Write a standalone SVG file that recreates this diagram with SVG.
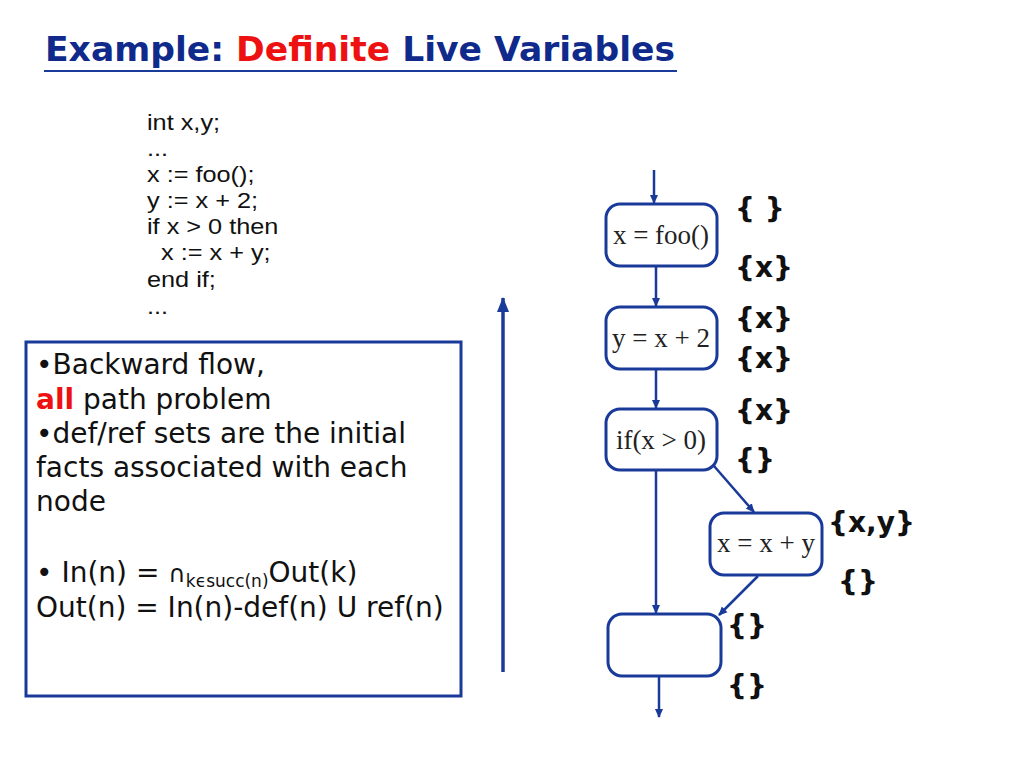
<svg xmlns="http://www.w3.org/2000/svg" width="1024" height="768" viewBox="0 0 1024 768">
<defs>
<style>
.title{font-family:"Comic Sans MS","DejaVu Sans",sans-serif;font-size:33px;font-weight:bold;fill:#102a8c}
.red{fill:#ee1111}
.code{font-family:"Liberation Sans",Arial,sans-serif;font-size:22px;fill:#111}
.body{font-family:"Comic Sans MS","DejaVu Sans",sans-serif;font-size:28px;fill:#111}
.node{fill:#fff;stroke:#1a3a9a;stroke-width:3}
.nt{font-family:"Liberation Serif","Times New Roman",serif;font-size:27px;fill:#222;text-anchor:middle}
.set{font-family:"Comic Sans MS","DejaVu Sans",sans-serif;font-size:28px;font-weight:bold;fill:#111}
.edge{stroke:#1a3a9a;stroke-width:2.5;fill:none;marker-end:url(#ah)}
</style>
<marker id="ah" markerWidth="10" markerHeight="10" refX="8" refY="5" orient="auto" markerUnits="userSpaceOnUse">
<path d="M0,1 L9,5 L0,9 z" fill="#1a3a9a"/>
</marker>
<marker id="big" markerWidth="16" markerHeight="16" refX="14" refY="8" orient="auto" markerUnits="userSpaceOnUse">
<path d="M0,2 L15,8 L0,14 z" fill="#1a3a9a"/>
</marker>
</defs>
<rect width="1024" height="768" fill="#fff"/>
<g id="title">
<text class="title" x="45" y="61" textLength="630" lengthAdjust="spacingAndGlyphs">Example: <tspan class="red">Definite</tspan> Live Variables</text>
<line x1="44" y1="71" x2="677" y2="71" stroke="#1a3a9a" stroke-width="2"/>
</g>
<g id="code" class="code" transform="translate(147,0) scale(1.15,1) translate(-147,0)">
<text x="147" y="130">int x,y;</text>
<text x="147" y="156">...</text>
<text x="147" y="182">x := foo();</text>
<text x="147" y="208">y := x + 2;</text>
<text x="147" y="234">if x &gt; 0 then</text>
<text x="147" y="260" xml:space="preserve">  x := x + y;</text>
<text x="147" y="287">end if;</text>
<text x="147" y="314">...</text>
</g>
<g id="notes">
<rect x="26" y="342" width="435" height="354" fill="#fff" stroke="#1a3a9a" stroke-width="3"/>
<text class="body" x="36" y="374">•Backward flow,</text>
<text class="body" x="36" y="409"><tspan class="red" font-weight="bold">all</tspan> path problem</text>
<text class="body" x="36" y="443">•def/ref sets are the initial</text>
<text class="body" x="36" y="477">facts associated with each</text>
<text class="body" x="36" y="511">node</text>
<text class="body" x="36" y="582">• In(n) = <tspan font-size="24">∩</tspan><tspan font-size="17" dy="5">kϵsucc(n)</tspan><tspan dy="-5">Out(k)</tspan></text>
<text class="body" x="36" y="617">Out(n) = In(n)-def(n) U ref(n)</text>
</g>
<g id="connectors">
<line x1="503" y1="672" x2="503" y2="298" stroke="#1a3a9a" stroke-width="3.5" marker-end="url(#big)"/>
<line x1="654" y1="170" x2="654" y2="203" class="edge"/>
<line x1="656" y1="266" x2="656" y2="306" class="edge"/>
<line x1="656" y1="369" x2="656" y2="408" class="edge"/>
<line x1="714" y1="466" x2="754" y2="512" class="edge"/>
<line x1="656" y1="471" x2="656" y2="613" class="edge"/>
<line x1="758" y1="576" x2="719" y2="615" class="edge"/>
<line x1="659" y1="676" x2="659" y2="717" class="edge"/>
</g>
<g id="n1"><rect class="node" x="606" y="204" width="111" height="62" rx="14"/><text class="nt" x="661" y="244">x = foo()</text></g>
<g id="n2"><rect class="node" x="606" y="307" width="111" height="62" rx="14"/><text class="nt" x="661" y="347">y = x + 2</text></g>
<g id="n3"><rect class="node" x="606" y="409" width="111" height="61" rx="14"/><text class="nt" x="661" y="449">if(x &gt; 0)</text></g>
<g id="n4"><rect class="node" x="710" y="513" width="112" height="62" rx="14"/><text class="nt" x="766" y="552">x = x + y</text></g>
<g id="n5"><rect class="node" x="608" y="614" width="113" height="62" rx="14"/></g>
<g id="sets" class="set">
<text x="735" y="218">{ }</text>
<text x="735" y="277">{x}</text>
<text x="735" y="328">{x}</text>
<text x="735" y="368">{x}</text>
<text x="735" y="420">{x}</text>
<text x="735" y="469">{}</text>
<text x="828" y="532">{x,y}</text>
<text x="838" y="591">{}</text>
<text x="727" y="635">{}</text>
<text x="727" y="695">{}</text>
</g>
</svg>
